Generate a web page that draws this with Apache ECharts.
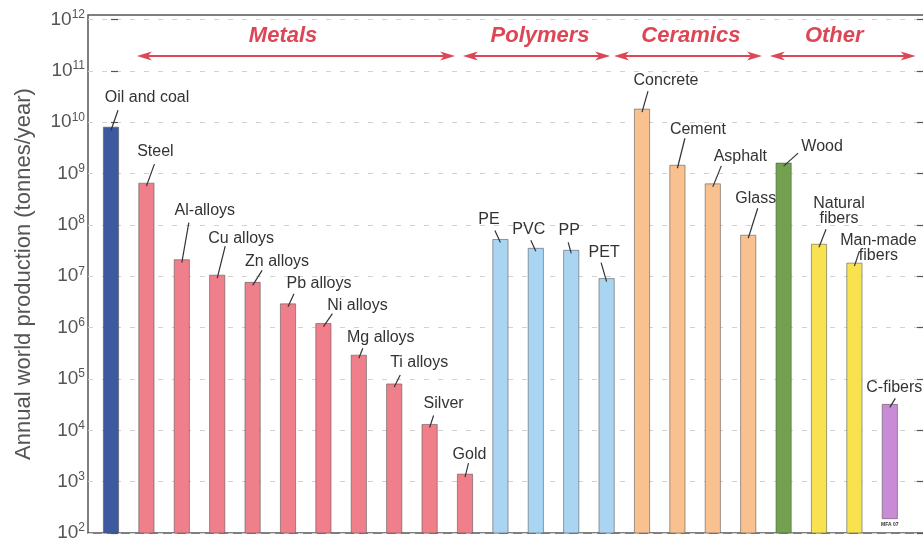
<!DOCTYPE html>
<html>
<head>
<meta charset="utf-8">
<script src="https://cdn.jsdelivr.net/npm/echarts/dist/echarts.min.js"></script>
<style>
  html, body { margin: 0; padding: 0; background: #ffffff; }
  #chart { width: 923px; height: 542px; }
</style>
</head>
<body>
<div id="chart"></div>
<script>
// ---- Data -------------------------------------------------------------
const materials = [
  'Oil and coal', 'Steel', 'Al-alloys', 'Cu alloys', 'Zn alloys', 'Pb alloys',
  'Ni alloys', 'Mg alloys', 'Ti alloys', 'Silver', 'Gold',
  'PE', 'PVC', 'PP', 'PET',
  'Concrete', 'Cement', 'Asphalt', 'Glass',
  'Wood', 'Natural\nfibers', 'Man-made\nfibers', 'C-fibers'
];
// Annual world production, tonnes per year
const production = [
  8e9, 6.5e8, 2.1e7, 1.05e7, 7.6e6, 2.9e6,
  1.2e6, 2.9e5, 8e4, 1.3e4, 1.4e3,
  5.2e7, 3.5e7, 3.2e7, 9e6,
  1.8e10, 1.45e9, 6.3e8, 6.3e7,
  1.6e9, 4.2e7, 1.8e7, 3.2e4
];
// Material family of each bar
const family = [
  'fuel', 'metal', 'metal', 'metal', 'metal', 'metal',
  'metal', 'metal', 'metal', 'metal', 'metal',
  'polymer', 'polymer', 'polymer', 'polymer',
  'ceramic', 'ceramic', 'ceramic', 'ceramic',
  'wood', 'fiber', 'fiber', 'carbon'
];
// Lower end of a bar when it does not start at the axis floor
const barFloor = [
  null, null, null, null, null, null,
  null, null, null, null, null,
  null, null, null, null,
  null, null, null, null,
  null, null, null, 190
];
const headers = ['Metals', 'Polymers', 'Ceramics', 'Other'];
// Tick values on the production axis (one per decade)
const decades = [1e2, 1e3, 1e4, 1e5, 1e6, 1e7, 1e8, 1e9, 1e10, 1e11, 1e12];
const Y_MIN = 1e2;
const Y_MAX = 1.224e12;   // frame sits a little above the 10^12 tick

// ---- Styling & layout -------------------------------------------------
const FONT = "'Liberation Sans', Arial, Helvetica, sans-serif";
const familyColor = {
  fuel: '#3d5a9e',
  metal: '#f07f8c',
  polymer: '#a9d5f2',
  ceramic: '#f9c18f',
  wood: '#74a14f',
  fiber: '#f8e24f',
  carbon: '#c98ad6'
};
// [text dx, text dy, leader end dx, leader end dy] relative to the bar top
const labelLayout = [
  [36, -30, 7, -17], [9, -32, 8, -19], [23, -49, 7, -37], [24, -37, 8, -29],
  [24.5, -21, 9.5, -12], [31, -20, 6, -10], [34, -18, 9, -10], [22, -18, 4, -7],
  [25, -21, 6, -9], [14, -21, 4, -9], [4.5, -20, 3.5, -11],
  [-11.5, -20, -5.5, -9], [-7, -19, -5, -8], [-2, -20, -3, -8], [-2.5, -26, -5.5, -16],
  [24, -29, 6, -18], [20.5, -36, 7.5, -27], [27.5, -27, 8.5, -18], [7.5, -37, 9.5, -27],
  [38.5, -16, 14.5, -10], [20, -33, 7, -15], [24, -15, 5, -12], [4.5, -17, 5.5, -6]
];
// Family header arrows: [from, to, text x] in category units
const headerSpans = [
  [0.73, 9.72, 4.86],
  [9.94, 14.10, 12.12],
  [14.21, 18.39, 16.38],
  [18.61, 22.73, 20.43]
];
const ARROW_LEVEL = 1.95e11;
const HEADER_LEVEL = 4.8e11;
const RED = '#dd4755';

const grid = { left: 88, top: 15, width: 838, height: 518 };
const X_MIN = -0.65;
const X_MAX = X_MIN + grid.width / 35.4;

const seriesData = production.map((v, i) => [i, v, barFloor[i] == null ? Y_MIN : barFloor[i]]);

const chart = echarts.init(document.getElementById('chart'), null, { renderer: 'canvas' });

function decadeLabel(v) {
  const e = Math.log10(v);
  if (Math.abs(e - Math.round(e)) > 0.01) return '';
  return '{b|10}{s|' + Math.round(e) + '}';
}

const yCommon = {
  type: 'log',
  logBase: 10,
  min: Y_MIN,
  max: Y_MAX,
  interval: 1,
  splitNumber: 10,
  axisLine: { show: false },
  minorTick: { show: false }
};

chart.setOption({
  animation: false,
  backgroundColor: '#ffffff',
  grid: Object.assign({
    show: true, borderColor: '#555', borderWidth: 1.5, backgroundColor: 'transparent',
    containLabel: false, outerBoundsMode: 'none'
  }, grid),
  xAxis: {
    type: 'value',
    min: X_MIN,
    max: X_MAX,
    show: false,
    splitLine: { show: false }
  },
  yAxis: [
    Object.assign({}, yCommon, {
      position: 'left',
      name: 'Annual world production (tonnes/year)',
      nameLocation: 'middle',
      nameGap: 53,
      nameTextStyle: { fontFamily: FONT, fontSize: 22, color: '#555' },
      axisTick: {
        show: true, inside: true, length: 7, customValues: decades,
        lineStyle: { color: '#555', width: 1.2 }
      },
      axisLabel: {
        margin: 3,
        customValues: decades,
        formatter: decadeLabel,
        rich: {
          b: { fontFamily: FONT, fontSize: 19, color: '#555', lineHeight: 22 },
          s: { fontFamily: FONT, fontSize: 12, color: '#555', verticalAlign: 'top', lineHeight: 22 }
        }
      },
      splitLine: { show: true, lineStyle: { color: '#d2d2d2', width: 1, type: [5, 9] } }
    }),
    Object.assign({}, yCommon, {
      position: 'right',
      axisTick: {
        show: true, inside: true, length: 9, customValues: decades,
        lineStyle: { color: '#555', width: 1.2 }
      },
      axisLabel: { show: false },
      splitLine: { show: false }
    })
  ],
  series: [{
    type: 'custom',
    clip: false,
    data: seriesData,
    encode: { x: 0, y: 1 },
    renderItem: function (params, api) {
      const i = params.dataIndex;
      const x = api.value(0);
      const top = api.coord([x, api.value(1)]);
      const bottom = api.coord([x, api.value(2)]);
      const w = api.size([1, 0])[0] * 0.43;
      const lay = labelLayout[i];
      return {
        type: 'group',
        children: [
          {
            type: 'rect',
            shape: { x: top[0] - w / 2, y: top[1], width: w, height: bottom[1] - top[1] },
            style: { fill: familyColor[family[i]], stroke: 'rgba(80,80,80,0.55)', lineWidth: 1 }
          },
          {
            type: 'line',
            shape: { x1: top[0], y1: top[1] + 3, x2: top[0] + lay[2], y2: top[1] + lay[3] },
            style: { stroke: '#333', lineWidth: 1.2 }
          },
          {
            type: 'text',
            style: {
              text: materials[i],
              x: top[0] + lay[0],
              y: top[1] + lay[1],
              align: 'center',
              verticalAlign: 'middle',
              fill: '#333',
              font: '16px ' + FONT,
              lineHeight: 15
            }
          }
        ]
      };
    }
  }]
});

// Family headers with double-headed arrows, and the small source tag
function px(xv, yv) {
  return chart.convertToPixel({ gridIndex: 0 }, [xv, yv]);
}
const graphics = [];
headers.forEach((name, k) => {
  const span = headerSpans[k];
  const a = px(span[0], ARROW_LEVEL);
  const b = px(span[1], ARROW_LEVEL);
  const t = px(span[2], HEADER_LEVEL);
  const y = a[1];
  graphics.push({
    type: 'line', silent: true,
    shape: { x1: a[0] + 6, y1: y, x2: b[0] - 6, y2: y },
    style: { stroke: RED, lineWidth: 2 }
  });
  graphics.push({
    type: 'polygon', silent: true,
    shape: { points: [[a[0], y], [a[0] + 15, y - 4.5], [a[0] + 11, y], [a[0] + 15, y + 4.5]] },
    style: { fill: RED }
  });
  graphics.push({
    type: 'polygon', silent: true,
    shape: { points: [[b[0], y], [b[0] - 15, y - 4.5], [b[0] - 11, y], [b[0] - 15, y + 4.5]] },
    style: { fill: RED }
  });
  graphics.push({
    type: 'text', silent: true,
    style: {
      text: name, x: t[0], y: t[1], align: 'center', verticalAlign: 'middle',
      fill: RED, font: 'italic bold 22px ' + FONT
    }
  });
});
const last = materials.length - 1;
const tag = px(last, barFloor[last]);
graphics.push({
  type: 'text', silent: true,
  style: {
    text: 'MFA 07', x: tag[0], y: tag[1] + 6, align: 'center', verticalAlign: 'middle',
    fill: '#333', font: 'bold 5px ' + FONT
  }
});
chart.setOption({ graphic: graphics });
</script>
</body>
</html>
